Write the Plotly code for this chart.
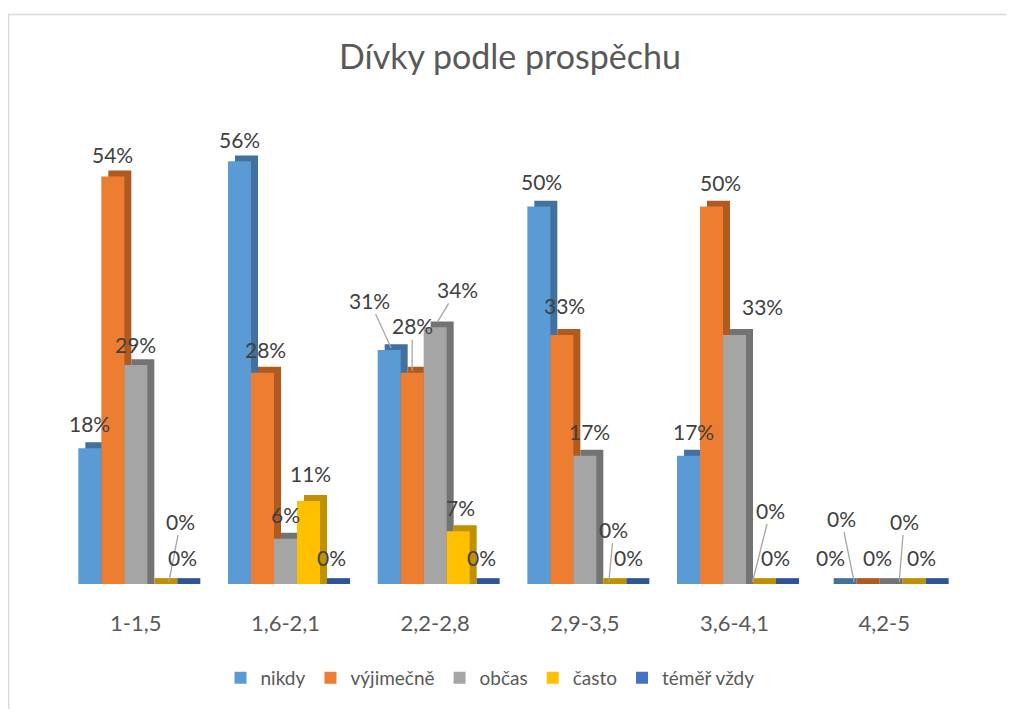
import plotly.graph_objects as go

# ---------------- data ----------------
categories = ["1-1,5", "1,6-2,1", "2,2-2,8", "2,9-3,5", "3,6-4,1", "4,2-5"]
series_names = ["nikdy", "výjimečně", "občas", "často", "téměř vždy"]
nikdy = [18, 56, 31, 50, 17, 0]
vyjimecne = [54, 28, 28, 33, 50, 0]
obcas = [29, 6, 34, 17, 33, 0]
casto = [0, 11, 7, 0, 0, 0]
temer_vzdy = [0, 0, 0, 0, 0, 0]
series_values = [nikdy, vyjimecne, obcas, casto, temer_vzdy]

# ---------------- style ----------------
front_colors = ["#5B9BD5", "#ED7D31", "#A5A5A5", "#FFC000", "#4472C4"]
side_colors = ["#41719C", "#AE5A21", "#737373", "#BF9000", "#2F5597"]
FONT = "Lato, 'Open Sans', sans-serif"

# the page body has an 8px margin: design in page pixels, shift by PAD
PAD = 8
PAGE_W, PAGE_H = 1014, 717
W, H = PAGE_W - 2 * PAD, PAGE_H - 2 * PAD
PLOT_LEFT, PLOT_RIGHT, PLOT_TOP, PLOT_BOTTOM = 61, 959, 116, 595  # page px
ML = PLOT_LEFT - PAD
MR = W - (PLOT_RIGHT - PAD)
MT = PLOT_TOP - PAD
MB = H - (PLOT_BOTTOM - PAD)
plot_w = PLOT_RIGHT - PLOT_LEFT
plot_h = PLOT_BOTTOM - PLOT_TOP
cat_px = plot_w / len(categories)
bar_w = 23 / cat_px
cluster_half = 2.5 * bar_w
depth_x = 7 / cat_px
y_max = 62
depth_y = 6 * y_max / plot_h

# label placement (pixel offsets of the label centre from the bar-top centre)
# (cat, series): (dx, dy, leader, head_dx, head_dy)
label_pos = {
    (0, 0): (0, -25, False, 0, 0), (0, 1): (0, -22, False, 0, 0),
    (0, 2): (0, -21, False, 0, 0), (0, 3): (22, -63, True, 10, -2),
    (0, 4): (1, -27, False, 0, 0),
    (1, 0): (0, -22, False, 0, 0), (1, 1): (3, -23, False, 0, 0),
    (1, 2): (0, -24, False, 0, 0), (1, 3): (2, -27, False, 0, 0),
    (1, 4): (0, -27, False, 0, 0),
    (2, 0): (-20, -50, True, 2, -2), (2, 1): (0, -47, True, 0, -2),
    (2, 2): (22, -38, True, 2, -5), (2, 3): (2, -24, False, 0, 0),
    (2, 4): (0, -27, False, 0, 0),
    (3, 0): (3, -25, False, 0, 0), (3, 1): (3, -29, False, 0, 0),
    (3, 2): (5, -24, False, 0, 0), (3, 3): (6, -55, True, 1, -2),
    (3, 4): (-2, -27, False, 0, 0),
    (4, 0): (5, -24, False, 0, 0), (4, 1): (9, -24, False, 0, 0),
    (4, 2): (28, -28, False, 0, 0), (4, 3): (13, -74, True, -5, -2),
    (4, 4): (-5, -27, False, 0, 0),
    (5, 0): (-8, -27, False, 0, 0), (5, 1): (-20, -66, True, -7, -2),
    (5, 2): (-7, -27, False, 0, 0), (5, 3): (-3, -63, True, -8, -2),
    (5, 4): (-9, -27, False, 0, 0),
}

fig = go.Figure()

for j, (name, vals) in enumerate(zip(series_names, series_values)):
    off = -cluster_half + j * bar_w
    # depth (side/top) face
    fig.add_trace(go.Bar(
        x=categories, y=[v + depth_y for v in vals],
        offset=off + depth_x, width=bar_w,
        marker=dict(color=side_colors[j], line=dict(width=0)),
        showlegend=False, hoverinfo="skip", name=name + " 3D",
    ))
    # front face
    fig.add_trace(go.Bar(
        x=categories, y=vals, name=name,
        offset=off, width=bar_w,
        marker=dict(color=front_colors[j], line=dict(width=0)),
    ))

annotations = []
for i in range(len(categories)):
    for j, vals in enumerate(series_values):
        v = vals[i]
        xpos = i - cluster_half + bar_w * (j + 0.5)
        dx, dy, leader, hx, hy = label_pos[(i, j)]
        txt = f"{v}%"
        if leader:
            annotations.append(dict(
                x=xpos, y=v, xref="x", yref="y", text=txt,
                showarrow=True, arrowhead=0, arrowwidth=1.3,
                arrowcolor="#A6A6A6", standoff=0,
                xshift=hx, yshift=-hy, ax=dx - hx, ay=dy - hy,
                font=dict(family=FONT, size=21, color="#404040"),
            ))
        else:
            annotations.append(dict(
                x=xpos, y=v, xref="x", yref="y", text=txt,
                showarrow=False, xanchor="center", yanchor="middle",
                xshift=dx, yshift=-dy,
                font=dict(family=FONT, size=21, color="#404040"),
            ))


def px_to_paper_x(px):
    return (px - PLOT_LEFT) / plot_w


def px_to_paper_y(py):
    return (PLOT_BOTTOM - py) / plot_h


fig.update_layout(
    width=W, height=H,
    margin=dict(l=ML, r=MR, t=MT, b=MB),
    paper_bgcolor="white", plot_bgcolor="white",
    barmode="overlay",
    title=dict(
        text="Dívky podle prospěchu",
        x=0.5, xref="paper", xanchor="center",
        y=1 - (57 - PAD) / H, yref="container", yanchor="middle",
        font=dict(family=FONT, size=34, color="#595959"),
    ),
    xaxis=dict(
        type="category", range=[-0.5, len(categories) - 0.5],
        showgrid=False, zeroline=False, showline=False,
        ticks="", ticklabelstandoff=24,
        tickfont=dict(family=FONT, size=22, color="#595959"),
    ),
    yaxis=dict(
        range=[0, y_max], visible=False, showgrid=False, zeroline=False,
    ),
    legend=dict(
        orientation="h", x=px_to_paper_x(490), xanchor="center",
        y=px_to_paper_y(691), yanchor="middle",
        font=dict(family=FONT, size=19, color="#595959"),
        traceorder="normal", itemclick=False,
    ),
    annotations=annotations,
    shapes=[dict(
        type="rect", xref="paper", yref="paper", layer="below",
        x0=px_to_paper_x(8.5), x1=px_to_paper_x(PAGE_W + 20),
        y0=px_to_paper_y(PAGE_H + 20), y1=px_to_paper_y(12),
        line=dict(color="#D9D9D9", width=1.5), fillcolor="rgba(0,0,0,0)",
    )],
    showlegend=True,
)

fig.write_html("out.html")
